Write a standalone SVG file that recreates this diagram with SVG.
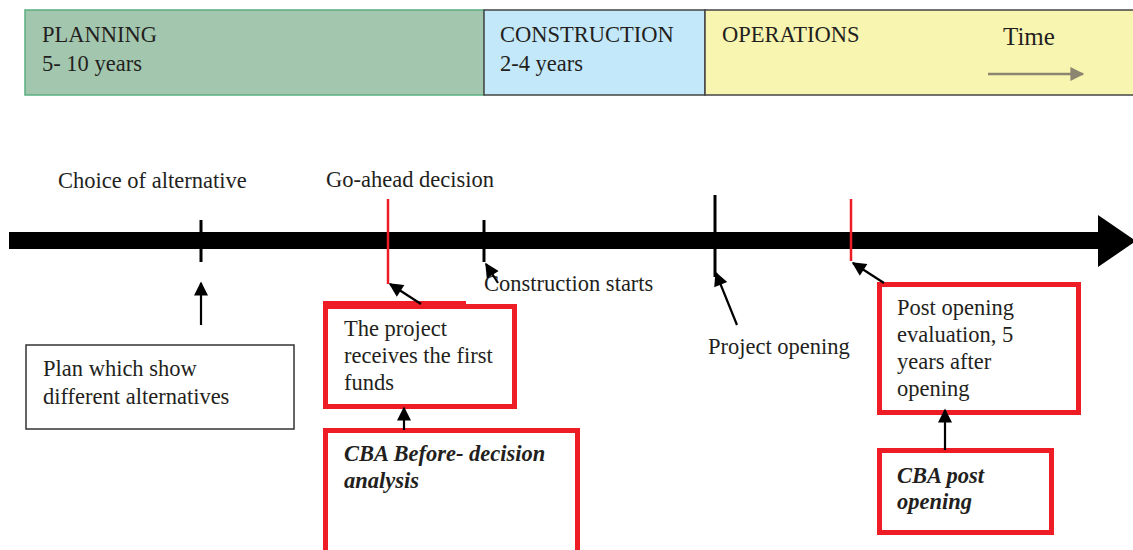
<svg xmlns="http://www.w3.org/2000/svg" width="1133" height="550" viewBox="0 0 1133 550">
  <defs>
    <style>
      text { font-family: "Liberation Serif", "Times New Roman", serif; font-size: 22.5px; fill: #231f20; }
      .bi { font-weight: bold; font-style: italic; }
      .redbox { fill: #ffffff; stroke: #ee1c25; stroke-width: 5; }
      .plainbox { fill: #ffffff; stroke: #333333; stroke-width: 1.5; }
      .tick { stroke: #000000; stroke-width: 3; }
      .redtick { stroke: #ee1c25; stroke-width: 2.5; fill: none; }
      .conn { stroke: #000000; stroke-width: 2.2; fill: none; marker-end: url(#ah); }
    </style>
    <marker id="ah" viewBox="0 0 10 10" refX="9" refY="5" markerWidth="17" markerHeight="14" markerUnits="userSpaceOnUse" orient="auto">
      <path d="M0,0 L10,5 L0,10 z" fill="#000000"/>
    </marker>
    <marker id="timeHead" viewBox="0 0 10 10" refX="9" refY="5" markerWidth="18" markerHeight="14" markerUnits="userSpaceOnUse" orient="auto">
      <path d="M0,0 L10,5 L0,10 z" fill="#8c8670"/>
    </marker>
  </defs>

  <!-- phase band -->
  <g id="phase-planning">
    <rect x="25" y="10" width="459" height="85" fill="#a3c7ae" stroke="#5aae80" stroke-width="1.5"/>
    <text x="42" y="42">PLANNING</text>
    <text x="42" y="71">5- 10 years</text>
  </g>
  <g id="phase-construction">
    <rect x="484" y="10" width="221" height="85" fill="#c3e8fa" stroke="#444444" stroke-width="1.5"/>
    <text x="500" y="42">CONSTRUCTION</text>
    <text x="500" y="71">2-4 years</text>
  </g>
  <g id="phase-operations">
    <rect x="705" y="10" width="440" height="85" fill="#f8f5b0" stroke="#444444" stroke-width="1.5"/>
    <text x="722" y="42">OPERATIONS</text>
    <text x="1003" y="45" style="font-size:25px">Time</text>
    <line x1="988" y1="74" x2="1083" y2="74" stroke="#8c8670" stroke-width="2.5" marker-end="url(#timeHead)"/>
  </g>

  <!-- time axis -->
  <g id="axis">
    <rect x="9" y="232" width="1092" height="17" fill="#000000"/>
    <polygon points="1098,215 1136,241 1098,267" fill="#000000"/>
    <line class="tick" x1="201" y1="220" x2="201" y2="262"/>
    <line class="tick" x1="484" y1="220" x2="484" y2="262"/>
    <line class="tick" x1="715" y1="195" x2="715" y2="277"/>
    <line class="redtick" x1="388" y1="199" x2="388" y2="284"/>
    <line class="redtick" x1="851" y1="199" x2="851" y2="261"/>
  </g>

  <!-- milestone labels -->
  <g id="label-choice"><text x="58" y="188">Choice of alternative</text></g>
  <g id="label-goahead"><text x="326" y="187">Go-ahead decision</text></g>
  <g id="label-construction"><text x="484" y="291">Construction starts</text></g>
  <g id="label-opening"><text x="708" y="354">Project opening</text></g>

  <!-- boxes -->
  <g id="box-plan">
    <rect class="plainbox" x="26" y="345" width="268" height="84"/>
    <text x="43" y="376">Plan which show</text>
    <text x="43" y="404">different alternatives</text>
  </g>
  <g id="box-funds">
    <rect class="redbox" x="325.5" y="306.5" width="189" height="100"/>
    <rect x="323" y="301" width="143" height="5" fill="#ee1c25"/>
    <text x="344" y="336">The project</text>
    <text x="344" y="363">receives the first</text>
    <text x="344" y="390">funds</text>
  </g>
  <g id="box-cba-before">
    <rect class="redbox" x="325.5" y="430.5" width="252" height="140"/>
    <text class="bi" x="344" y="461">CBA Before- decision</text>
    <text class="bi" x="344" y="488">analysis</text>
  </g>
  <g id="box-post-eval">
    <rect class="redbox" x="879.5" y="284.5" width="199" height="128"/>
    <text x="897" y="315">Post opening</text>
    <text x="897" y="342">evaluation, 5</text>
    <text x="897" y="369">years after</text>
    <text x="897" y="396">opening</text>
  </g>
  <g id="box-cba-post">
    <rect class="redbox" x="879.5" y="450.5" width="172" height="82"/>
    <text class="bi" x="897" y="483">CBA post</text>
    <text class="bi" x="897" y="509">opening</text>
  </g>

  <!-- connectors -->
  <g id="connectors">
    <line class="conn" x1="201" y1="325" x2="201" y2="283"/>
    <line class="conn" x1="421" y1="304" x2="390" y2="284"/>
    <line class="conn" x1="498" y1="283" x2="486" y2="264"/>
    <line class="conn" x1="737" y1="325" x2="716" y2="273"/>
    <line class="conn" x1="884" y1="283" x2="853" y2="263"/>
    <line class="conn" x1="404" y1="430" x2="404" y2="408"/>
    <line class="conn" x1="945" y1="450" x2="945" y2="410"/>
  </g>
</svg>
